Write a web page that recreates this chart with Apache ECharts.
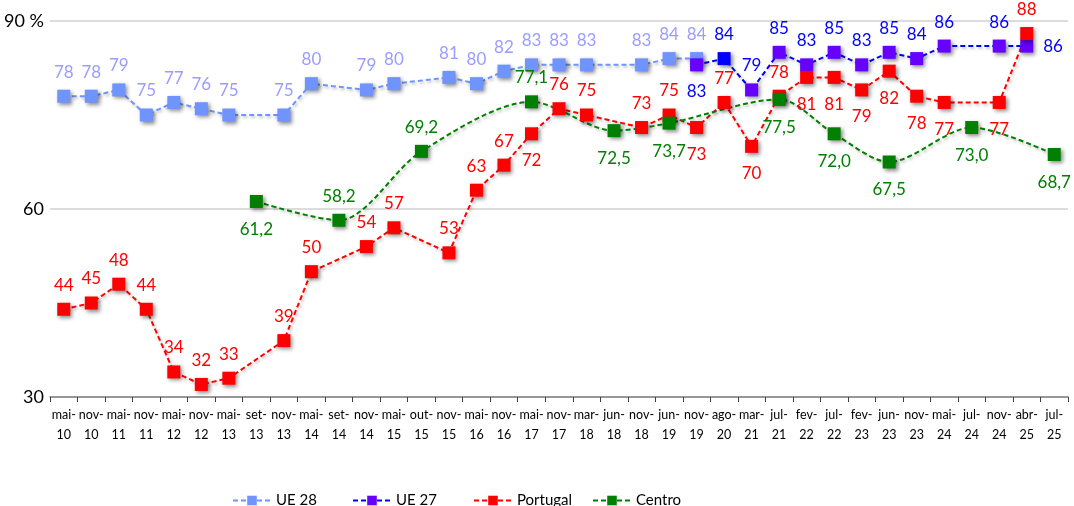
<!DOCTYPE html>
<html>
<head>
<meta charset="utf-8">
<script src="https://cdn.jsdelivr.net/npm/echarts@6/dist/echarts.min.js"></script>
<style>
html,body{margin:0;padding:0;background:#fff;}
#chart{width:1074px;height:506px;}
</style>
</head>
<body>
<div id="chart"></div>
<script>
const categories = ['mai-10','nov-10','mai-11','nov-11','mai-12','nov-12','mai-13','set-13','nov-13','mai-14','set-14','nov-14','mai-15','out-15','nov-15','mai-16','nov-16','mai-17','nov-17','mar-18','jun-18','nov-18','jun-19','nov-19','ago-20','mar-21','jul-21','fev-22','jul-22','fev-23','jun-23','nov-23','mai-24','jul-24','nov-24','abr-25','jul-25'];
const ue28 = [78,78,79,75,77,76,75,null,75,80,null,79,80,null,81,80,82,83,83,83,null,83,84,84,null,null,null,null,null,null,null,null,null,null,null,null,null];
const ue27 = [null,null,null,null,null,null,null,null,null,null,null,null,null,null,null,null,null,null,null,null,null,null,null,83,84,79,85,83,85,83,85,84,86,null,86,86,null];
const portugal = [44,45,48,44,34,32,33,null,39,50,null,54,57,null,53,63,67,72,76,75,null,73,75,73,77,70,78,81,81,79,82,78,77,null,77,88,null];
const centro = [null,null,null,null,null,null,null,61.2,null,null,58.2,null,null,69.2,null,null,null,77.1,null,null,72.5,null,73.7,null,null,null,77.5,null,72.0,null,67.5,null,null,73.0,null,null,68.7];
const yTicks = [30,60,90];

const FONT = 'Lato, "Open Sans", sans-serif';

// label placement rules (by category)
const belowPortugal = ['mai-17','nov-19','mar-21','fev-22','jul-22','fev-23','jun-23','nov-23','mai-24','nov-24'];
const aboveCentro = ['set-14','out-15','mai-17'];
const belowUE27 = ['nov-19'];
const rightUE27 = ['abr-25'];

function fmtComma(v){ return v.toFixed(1).replace('.', ','); }

function mkData(arr, placer){
  return arr.map((v,i)=>{
    if (v === null) return null;
    const o = {value: v};
    const p = placer ? placer(categories[i]) : null;
    if (p) o.label = p;
    return o;
  });
}

const shadow = {shadowBlur:4, shadowOffsetX:2, shadowOffsetY:2, shadowColor:'rgba(0,0,0,0.45)'};
const lineShadow = {shadowBlur:3, shadowOffsetX:1.5, shadowOffsetY:2, shadowColor:'rgba(0,0,0,0.25)'};

function baseSeries(name, data, color, lineColor, labelColor, extra){
  return Object.assign({
    name: name,
    type: 'line',
    data: data,
    connectNulls: true,
    symbol: 'rect',
    symbolSize: 13,
    itemStyle: Object.assign({color: color}, shadow),
    lineStyle: Object.assign({color: lineColor, width: 2, type: [5,3]}, lineShadow),
    label: {show: true, position: 'top', distance: 9, color: labelColor, fontFamily: FONT, fontSize: 17},
    emphasis: {disabled: true}
  }, extra || {});
}

const sUE28 = baseSeries('UE 28', mkData(ue28), '#6F93FF', '#6F93FF', '#9C9CFF');
const sUE27 = baseSeries('UE 27', mkData(ue27, c => {
  if (belowUE27.includes(c)) return {position:'bottom', distance: 12};
  if (rightUE27.includes(c)) return {position:'right', distance: 10};
  return null;
}), '#6600FF', '#0000FF', '#0000FF');
// single point with pure blue marker
sUE27.data[categories.indexOf('ago-20')].itemStyle = {color:'#0000FF'};

const sPT = baseSeries('Portugal', mkData(portugal, c => belowPortugal.includes(c) ? {position:'bottom', distance: 12} : null), '#FF0000', '#FF0000', '#FF0000');
const sCentro = baseSeries('Centro', mkData(centro, c => aboveCentro.includes(c) ? null : {position:'bottom', distance: 13}), '#008000', '#008000', '#008000', {smooth: 0.3});
sCentro.label.formatter = p => fmtComma(p.value);

function legendAt(name, left){
  return {
    data:[name], left: left, top: 488, itemWidth: 38, itemHeight: 12,
    textStyle:{fontFamily: FONT, fontSize: 15, color:'#000'}, selectedMode:false, itemGap: 6
  };
}

const chart = echarts.init(document.getElementById('chart'));
chart.setOption({
  animation: false,
  backgroundColor: '#fff',
  grid: {left: 50, right: 6, top: 21, bottom: 109, containLabel: false},
  legend: [legendAt('UE 28', 227), legendAt('UE 27', 347), legendAt('Portugal', 468), legendAt('Centro', 587)],
  xAxis: {
    type: 'category',
    data: categories,
    boundaryGap: true,
    axisLine: {lineStyle: {color: '#808080', width: 1.5}},
    axisTick: {show: true, length: 5, lineStyle: {color: '#404040'}},
    axisLabel: {
      interval: 0, color: '#000', fontFamily: FONT, fontSize: 12.5, lineHeight: 20, margin: 8,
      formatter: v => { const p = v.split('-'); return p[0] + '-\n' + p[1]; }
    }
  },
  yAxis: {
    type: 'value', min: yTicks[0], max: yTicks[yTicks.length-1], interval: 30,
    axisLine: {show: false}, axisTick: {show: false},
    splitLine: {lineStyle: {color: '#D0D0D0', width: 1.5}},
    axisLabel: {color: '#000', fontFamily: FONT, fontSize: 18, margin: 6,
      formatter: v => v === 90 ? '90 %' : String(v)}
  },
  series: [sUE28, sUE27, sPT, sCentro]
});
</script>
</body>
</html>
